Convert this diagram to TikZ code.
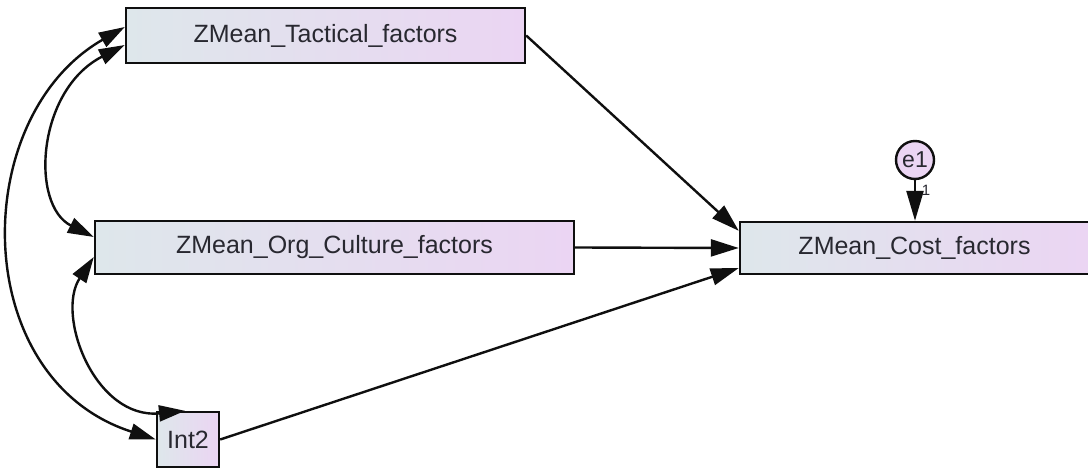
\documentclass[tikz,border=0pt]{standalone}
\usepackage{fontspec}
\setmainfont{Liberation Sans}
\usetikzlibrary{arrows.meta,calc}
\definecolor{boxleft}{RGB}{222,231,235}
\definecolor{boxright}{RGB}{235,213,243}
\definecolor{ink}{RGB}{40,40,48}
\definecolor{edgeline}{RGB}{15,15,15}

\begin{document}
\begin{tikzpicture}[x=1pt,y=-1pt,
  obs/.style={rectangle, draw=edgeline, line width=2.4pt, left color=boxleft,
    right color=boxright, text=ink, font=\fontsize{25}{30}\selectfont, inner sep=0pt},
  err/.style={circle, draw=edgeline, line width=2.4pt, fill=boxright, text=ink,
    font=\fontsize{23}{27}\selectfont, inner sep=0pt, minimum size=38pt},
  regpath/.style={draw=edgeline, line width=2.4pt, -{Triangle[length=28pt,width=17pt]}},
  cov/.style={draw=edgeline, line width=2.4pt,
    {Triangle[length=26pt,width=16pt]}-{Triangle[length=26pt,width=16pt]}},
  weight/.style={text=ink, font=\fontsize{15}{18}\selectfont, inner sep=0pt},
]
\fill[white] (0,0) rectangle (1088,470);
\useasboundingbox (0,0) rectangle (1088,470);

% observed variables
\node[obs, minimum width=399pt, minimum height=55pt] (tac) at (325.5,35.5) {ZMean\_Tactical\_factors};
\node[obs, minimum width=479pt, minimum height=53pt] (org) at (334.5,247.5) {ZMean\_Org\_Culture\_factors};
\node[obs, minimum width=349pt, minimum height=52pt] (cost) at (914.5,248) {ZMean\_Cost\_factors};
\node[obs, minimum width=62pt, minimum height=55pt] (int) at (188,439.5) {Int2};

% error term
\node[err] (e1) at (915,160) {e1};

% regression paths
\draw[regpath] (tac.east) -- ([yshift=-10pt]cost.north west);
\draw[regpath] (org.east) -- (cost.west);
\draw[regpath] (int.east) -- ([yshift=-20pt]cost.west);
\draw[regpath, -{Triangle[length=30pt,width=17pt]}] (e1.south) -- (e1.south |- cost.north);
\node[weight] (w1) at (926,190) {1};

% covariances
\draw[cov] ([yshift=-9.5pt]tac.west) .. controls +(-88,45) and +(-64,-32) .. ([yshift=10.5pt]org.west);
\draw[cov] ([yshift=8.5pt]tac.west) .. controls +(-157,90) and +(-188,-60.5) .. (int.west);
\draw[cov] ([yshift=-9.5pt]org.west) .. controls +(-38.5,58) and +(-90,9) .. ([xshift=-3pt]int.north);
\end{tikzpicture}
\end{document}
